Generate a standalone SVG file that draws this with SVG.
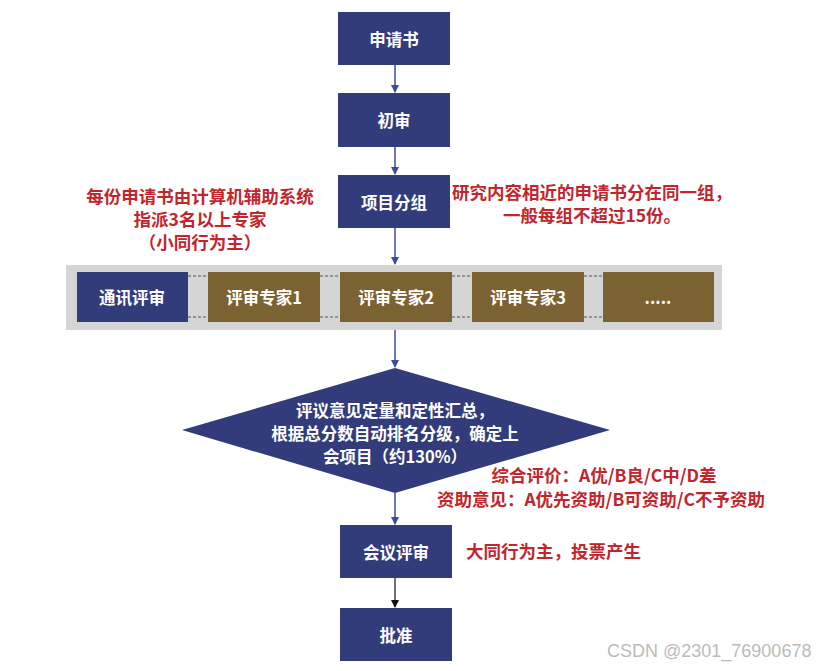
<svg xmlns="http://www.w3.org/2000/svg" width="834" height="671" viewBox="0 0 834 671">
<defs>
<style>
.nb{fill:#323c7a;}
.ob{fill:#7b6233;}
.bt{fill:#fff;font-family:"Noto Sans CJK SC","Noto Sans",sans-serif;font-weight:bold;font-size:16.5px;text-anchor:middle;dominant-baseline:central;}
.rt{fill:#c0262d;font-family:"Noto Sans CJK SC","Noto Sans",sans-serif;font-weight:bold;font-size:17.5px;}
.ln{stroke:#3b4c9e;stroke-width:1.5;fill:none;}
.dash{stroke:#555;stroke-width:1.2;stroke-dasharray:3,2;}
</style>
<marker id="ah" markerWidth="8" markerHeight="10" refX="7" refY="5" orient="auto" markerUnits="userSpaceOnUse">
<path d="M0,1 L8,5 L0,9 Z" fill="#3b4c9e"/>
</marker>
<marker id="ahk" markerWidth="8" markerHeight="10" refX="7" refY="5" orient="auto" markerUnits="userSpaceOnUse">
<path d="M0,1 L8,5 L0,9 Z" fill="#111"/>
</marker>
</defs>
<rect width="834" height="671" fill="#fff"/>
<g id="connectors">
<line class="ln" x1="395" y1="65" x2="395" y2="92" marker-end="url(#ah)"/>
<line class="ln" x1="395" y1="147" x2="395" y2="174" marker-end="url(#ah)"/>
<line class="ln" x1="395" y1="228" x2="395" y2="264" marker-end="url(#ah)"/>
<line class="ln" x1="395" y1="330" x2="395" y2="367" marker-end="url(#ah)"/>
<line class="ln" x1="395" y1="493" x2="395" y2="524" marker-end="url(#ah)"/>
<line x1="395" y1="578" x2="395" y2="607" stroke="#111" stroke-width="1.2" marker-end="url(#ahk)"/>
</g>
<g id="n-shenqingshu"><rect class="nb" x="338" y="12" width="112" height="53"/><text class="bt" x="394" y="39">申请书</text></g>
<g id="n-chushen"><rect class="nb" x="338" y="93" width="112" height="54"/><text class="bt" x="394" y="120">初审</text></g>
<g id="n-fenzu"><rect class="nb" x="338" y="175" width="112" height="53"/><text class="bt" x="394" y="202">项目分组</text></g>
<g id="band">
<rect x="66" y="265" width="656" height="65" fill="#d5d5d5"/>
<line class="dash" x1="188" y1="276" x2="208" y2="276"/><line class="dash" x1="188" y1="317" x2="208" y2="317"/>
<line class="dash" x1="320" y1="276" x2="340" y2="276"/><line class="dash" x1="320" y1="317" x2="340" y2="317"/>
<line class="dash" x1="452" y1="276" x2="472" y2="276"/><line class="dash" x1="452" y1="317" x2="472" y2="317"/>
<line class="dash" x1="584" y1="276" x2="603" y2="276"/><line class="dash" x1="584" y1="317" x2="603" y2="317"/>
</g>
<g id="n-tongxun"><rect class="nb" x="77" y="272" width="111" height="50"/><text class="bt" x="132" y="297">通讯评审</text></g>
<g id="n-zj1"><rect class="ob" x="208" y="272" width="112" height="50"/><text class="bt" x="264" y="297">评审专家1</text></g>
<g id="n-zj2"><rect class="ob" x="340" y="272" width="112" height="50"/><text class="bt" x="396" y="297">评审专家2</text></g>
<g id="n-zj3"><rect class="ob" x="472" y="272" width="112" height="50"/><text class="bt" x="528" y="297">评审专家3</text></g>
<g id="n-more"><rect class="ob" x="603" y="272" width="111" height="50"/><text class="bt" x="658" y="297">.....</text></g>
<g id="n-diamond">
<polygon class="nb" points="395,368 610,430 395,493 182,430"/>
<text class="bt" x="395" y="410">评议意见定量和定性汇总，</text>
<text class="bt" x="395" y="433">根据总分数自动排名分级，确定上</text>
<text class="bt" x="395" y="456">会项目（约130%）</text>
</g>
<g id="n-huiyi"><rect class="nb" x="340" y="525" width="112" height="53"/><text class="bt" x="396" y="552">会议评审</text></g>
<g id="n-pizhun"><rect class="nb" x="340" y="608" width="112" height="53"/><text class="bt" x="396" y="635">批准</text></g>
<g id="notes">
<text class="rt" x="200" y="203" text-anchor="middle">每份申请书由计算机辅助系统</text>
<text class="rt" x="200" y="226" text-anchor="middle">指派3名以上专家</text>
<text class="rt" x="200" y="249" text-anchor="middle">（小同行为主）</text>
<text class="rt" x="592" y="199" text-anchor="middle">研究内容相近的申请书分在同一组，</text>
<text class="rt" x="592" y="222" text-anchor="middle">一般每组不超过15份。</text>
<text class="rt" x="604" y="482" text-anchor="middle">综合评价：A优/B良/C中/D差</text>
<text class="rt" x="601" y="506" text-anchor="middle">资助意见：A优先资助/B可资助/C不予资助</text>
<text class="rt" x="466" y="558">大同行为主，投票产生</text>
</g>
<text x="607" y="657" fill="#bbb" font-family="'Liberation Sans',sans-serif" font-size="18">CSDN @2301_76900678</text>
</svg>
